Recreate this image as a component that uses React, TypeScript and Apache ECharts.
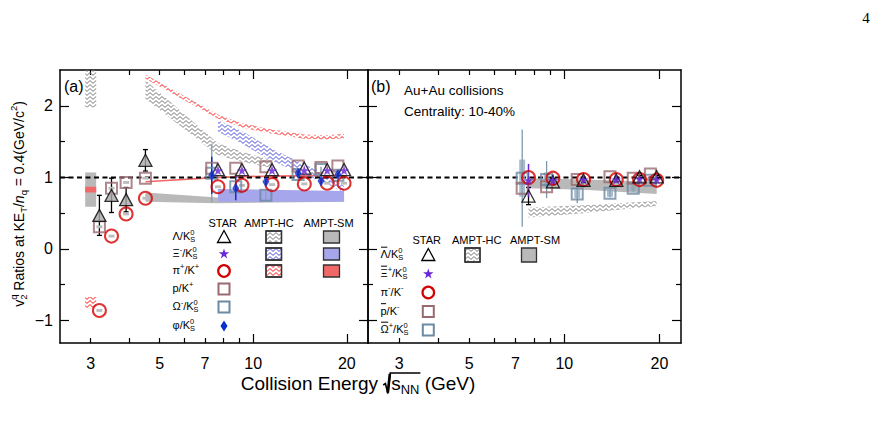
import { useEffect, useRef } from 'react';
import * as echarts from 'echarts';

const FONT = '"Liberation Sans", Arial, Helvetica, sans-serif';
const lg = Math.log10;

// ---- axes ----
const X_MIN = lg(2.39);
const X_MAX = lg(23.4);
const Y_MIN = -1.315;
const Y_MAX = 2.503;
const xMinorTicks = [3, 4, 5, 6, 7, 8, 9];
const xMajorTicks = [10, 20];
const xTickLabels = [3, 5, 7, 10, 20];
const yMajorTicks = [-1, 0, 1, 2];
const yMinorTicks = [-0.5, 0.5, 1.5];

// ---- collision energies (GeV) ----
const fxtEnergy = [3.2, 3.5, 3.9, 4.5];
const besEnergy = [7.7, 9.2, 11.5, 14.6, 17.3, 19.6];

// ---- (a) STAR, particles ----
const lambdaFxt = [0.47, 0.75, 0.69, 1.24];
const lambdaFxtErr = [0.28, 0.24, 0.17, 0.15];
const protonFxt = [0.31, 0.85, 0.93, 0.99];
const pionFxt = [-0.86, 0.18, 0.49, 0.71];

const lambdaBes = [1.11, 1.11, 1.11, 1.13, 1.11, 1.11];
const xiBes = [1.1, 1.1, 1.1, 1.1, 1.1, 1.1];
const pionBes = [0.87, 0.89, 0.9, 0.91, 0.92, 0.92];
const protonBes = [1.13, 1.13, 1.15, 1.16, 1.14, 1.16];
const omegaBes = [1.06, 0.87, 0.75, 1.04, 1.11, 1.03];
const omegaBesErr = [0.41, 0.08, 0.06, 0.05, 0.04, 0.04];
const phiBes = [1.03, 0.85, 0.94, 1.06, 0.95, 1.04];
const phiBesErr = [0.26, 0.17, 0.05, 0.05, 0.04, 0.04];

// ---- (a) AMPT ----
const ampt3Energy = [3.0];
const hcLambda3Lo = [1.98];
const hcLambda3Hi = [2.7];
const smLambda3Lo = [0.59];
const smLambda3Hi = [1.07];
const smPion3Lo = [0.79];
const smPion3Hi = [0.87];
const hcPion3Lo = [-0.83];
const hcPion3Hi = [-0.67];

const hcLambdaEnergy = [4.5, 7.7, 9.2, 11.5];
const hcLambdaLo = [2.1, 1.31, 1.22, 1.13];
const hcLambdaHi = [2.36, 1.48, 1.36, 1.24];
const hcXiEnergy = [7.7, 9.2, 11.5, 14.6, 17.3, 19.6];
const hcXiLo = [1.64, 1.47, 1.23, 1.04, 0.91, 0.79];
const hcXiHi = [1.8, 1.65, 1.4, 1.18, 1.05, 0.88];
const hcPionEnergy = [4.5, 7.7, 9.2, 11.5, 14.6, 17.3, 19.6];
const hcPionMid = [2.41, 1.85, 1.73, 1.64, 1.57, 1.56, 1.58];

const smLambdaEnergy = [4.5, 7.7, 19.6];
const smLambdaLo = [0.66, 0.64, 0.66];
const smLambdaHi = [0.79, 0.72, 0.72];
const smXiEnergy = [7.7, 19.6];
const smXiLo = [0.66, 0.66];
const smXiHi = [0.84, 0.81];
const smPionEnergy = [4.5, 7.7, 11.5, 19.6];
const smPionMid = [0.94, 1.0, 1.02, 1.03];

// ---- (b) STAR, anti-particles ----
const omegaBar = [0.99, 0.97, 0.77, 0.78, 0.85, 0.96];
const omegaBarErr = [0.68, 0.26, 0.13, 0.06, 0.05, 0.05];
const omegaBarSys = [0.26, 0.1, 0.06, 0.05, 0.04, 0.04];
const protonBar = [0.85, 0.87, 0.97, 1.01, 0.99, 1.05];
const pionMinus = [1.0, 0.99, 0.97, 0.97, 0.97, 0.96];
const lambdaBar = [0.74, 0.94, 0.96, 0.96, 1.01, 1.01];
const lambdaBarErr = [0.12, 0.04, 0.03, 0.02, 0.02, 0.02];
const xiBar = [0.96, 0.96, 0.97, 0.97, 0.98, 0.97];
const xiBarErr = [0.23, 0.08, 0.03, 0.03, 0.02, 0.02];

// ---- (b) AMPT ----
const hcBarEnergy = [7.7, 11.5, 19.6];
const hcBarLo = [0.44, 0.5, 0.6];
const hcBarHi = [0.58, 0.61, 0.67];
const smBarEnergy = [7.7, 11.5, 19.6];
const smBarLo = [0.85, 0.83, 0.77];
const smBarHi = [0.99, 0.97, 0.94];

// ---- colours ----
const RED = '#d40000';
const PURPLE = '#6a25d8';
const BROWN = '#9a6a70';
const STEEL = '#6b8aa3';
const BLUE = '#0a2fd0';
const SM_GREY = '#b9b9b9';
const SM_BLUE = '#a6a6ec';
const SM_RED = '#f06868';

const PION_HALF = 0.03;
const SM_PION_HALF = 0.012;
const SHIFT = 0.955;

let measureCtx: CanvasRenderingContext2D | null = null;
function tw(s: string, size: number, italic = false, family = FONT) {
  if (!measureCtx) measureCtx = document.createElement('canvas').getContext('2d');
  measureCtx!.font = `${italic ? 'italic ' : ''}${size}px ${family}`;
  return measureCtx!.measureText(s).width;
}

function hatch(color: string) {
  const c = document.createElement('canvas');
  c.width = 6;
  c.height = 4;
  const g = c.getContext('2d')!;
  g.strokeStyle = color;
  g.lineWidth = 1;
  g.beginPath();
  g.moveTo(0, 0.6);
  g.lineTo(3, 3.4);
  g.lineTo(6, 0.6);
  g.stroke();
  return { image: c.toDataURL(), repeat: 'repeat', imageWidth: 6, imageHeight: 4 };
}

function starPoints(cx: number, cy: number, R: number, r: number) {
  const pts: number[][] = [];
  for (let i = 0; i < 10; i++) {
    const a = -Math.PI / 2 + (i * Math.PI) / 5;
    const rad = i % 2 === 0 ? R : r;
    pts.push([cx + rad * Math.cos(a), cy + rad * Math.sin(a)]);
  }
  return pts;
}
const STAR_PATH =
  'path://M' + starPoints(10, 10, 10, 3.8).map((p) => p.map((v) => v.toFixed(2)).join(' ')).join(' L') + ' Z';

type Part = { t: string; k?: 'sup' | 'sub' | 'it'; s?: string; bar?: boolean };
function rich(parts: Part[], size: number, color = '#000') {
  const children: any[] = [];
  let cx = 0;
  const small = size * 0.68;
  const txt = (t: string, x: number, y: number, fs: number, italic = false) => ({
    type: 'text',
    x,
    y,
    silent: true,
    style: {
      text: t,
      fontSize: fs,
      fontFamily: FONT,
      fontStyle: italic ? 'italic' : 'normal',
      fill: color,
      align: 'left',
      verticalAlign: 'middle',
    },
  });
  for (const p of parts) {
    if (p.k === 'sup' || p.k === 'sub') {
      let w = tw(p.t, small);
      children.push(txt(p.t, cx, p.k === 'sup' ? -size * 0.36 : size * 0.32, small));
      if (p.s) {
        children.push(txt(p.s, cx, size * 0.34, small));
        w = Math.max(w, tw(p.s, small));
      }
      cx += w;
    } else {
      const it = p.k === 'it';
      const w = tw(p.t, size, it);
      children.push(txt(p.t, cx, 0, size, it));
      if (p.bar) {
        children.push({
          type: 'line',
          silent: true,
          shape: { x1: cx + 0.5, y1: -size * 0.62, x2: cx + w - 0.5, y2: -size * 0.62 },
          style: { stroke: color, lineWidth: 1 },
        });
      }
      cx += w;
    }
  }
  return { children, width: cx };
}

const AXIS_LINE = { show: true, onZero: false, lineStyle: { color: '#000', width: 1.5 } };
const NO_LINE = { show: false, onZero: false };

function xAxes(grid: number) {
  const base = {
    type: 'value',
    gridIndex: grid,
    min: X_MIN,
    max: X_MAX,
    splitLine: { show: false },
  };
  const tick = (vals: number[], len: number) => ({
    show: true,
    inside: true,
    length: len,
    customValues: vals.map(lg),
    lineStyle: { color: '#000', width: 1.2 },
  });
  return [
    {
      ...base,
      position: 'bottom',
      axisLine: AXIS_LINE,
      axisTick: tick(xMinorTicks, 5),
      axisLabel: {
        show: true,
        customValues: xTickLabels.map(lg),
        formatter: (v: number) => String(Math.round(Math.pow(10, v))),
        fontSize: 16,
        fontFamily: FONT,
        color: '#000',
        margin: 12,
      },
    },
    { ...base, position: 'bottom', axisLine: NO_LINE, axisTick: tick(xMajorTicks, 9), axisLabel: { show: false } },
    { ...base, position: 'top', axisLine: AXIS_LINE, axisTick: tick(xMinorTicks, 5), axisLabel: { show: false } },
    { ...base, position: 'top', axisLine: NO_LINE, axisTick: tick(xMajorTicks, 9), axisLabel: { show: false } },
  ];
}

function yAxes(grid: number, labels: boolean) {
  const base = { type: 'value', gridIndex: grid, min: Y_MIN, max: Y_MAX, splitLine: { show: false } };
  const tick = (vals: number[], len: number) => ({
    show: true,
    inside: true,
    length: len,
    customValues: vals,
    lineStyle: { color: '#000', width: 1.2 },
  });
  return [
    {
      ...base,
      position: 'left',
      axisLine: AXIS_LINE,
      axisTick: tick(yMajorTicks, 9),
      axisLabel: labels
        ? {
            show: true,
            customValues: yMajorTicks,
            formatter: (v: number) => (v < 0 ? '\u2212' + Math.abs(v) : String(v)),
            fontSize: 16,
            fontFamily: FONT,
            color: '#000',
            margin: 7,
          }
        : { show: false },
    },
    { ...base, position: 'left', axisLine: NO_LINE, axisTick: tick(yMinorTicks, 5), axisLabel: { show: false } },
    { ...base, position: 'right', axisLine: AXIS_LINE, axisTick: tick(yMajorTicks, 9), axisLabel: { show: false } },
    { ...base, position: 'right', axisLine: NO_LINE, axisTick: tick(yMinorTicks, 5), axisLabel: { show: false } },
  ];
}

function band(e: number[], lo: number[], hi: number[], fill: any, panel: number, z: number) {
  const pts = e.map((x, i) => [lg(x), lo[i], hi[i]]);
  return {
    type: 'custom',
    xAxisIndex: panel * 4,
    yAxisIndex: panel * 4,
    z,
    silent: true,
    clip: true,
    data: pts,
    renderItem: (params: any, api: any) => {
      if (params.dataIndex !== 0) return null;
      const top = pts.map((p) => api.coord([p[0], p[2]]));
      const bot = pts.map((p) => api.coord([p[0], p[1]])).reverse();
      return { type: 'polygon', shape: { points: top.concat(bot) }, style: { fill } };
    },
  };
}

function boxes(e: number[], lo: number[], hi: number[], fill: any, panel: number, z: number, halfPx = 5.5, shift = 1) {
  return {
    type: 'custom',
    xAxisIndex: panel * 4,
    yAxisIndex: panel * 4,
    z,
    silent: true,
    clip: true,
    data: e.map((x, i) => [lg(x * shift), lo[i], hi[i]]),
    renderItem: (_p: any, api: any) => {
      const a = api.coord([api.value(0), api.value(2)]);
      const b = api.coord([api.value(0), api.value(1)]);
      return {
        type: 'rect',
        shape: { x: a[0] - halfPx, y: a[1], width: 2 * halfPx, height: b[1] - a[1] },
        style: { fill },
      };
    },
  };
}

function errBars(e: number[], y: number[], err: number[], color: string, width: number, cap: number, panel: number, z: number, shift = 1) {
  return {
    type: 'custom',
    xAxisIndex: panel * 4,
    yAxisIndex: panel * 4,
    z,
    silent: true,
    clip: true,
    data: e.map((x, i) => [lg(x * shift), y[i], err[i]]),
    renderItem: (_p: any, api: any) => {
      const x = api.value(0);
      const v = api.value(1);
      const d = api.value(2);
      const a = api.coord([x, v + d]);
      const b = api.coord([x, v - d]);
      const st = { stroke: color, lineWidth: width };
      const children: any[] = [{ type: 'line', shape: { x1: a[0], y1: a[1], x2: b[0], y2: b[1] }, style: st }];
      if (cap > 0) {
        children.push({ type: 'line', shape: { x1: a[0] - cap, y1: a[1], x2: a[0] + cap, y2: a[1] }, style: st });
        children.push({ type: 'line', shape: { x1: b[0] - cap, y1: b[1], x2: b[0] + cap, y2: b[1] }, style: st });
      }
      return { type: 'group', children };
    },
  };
}

function scatter(e: number[], y: number[], panel: number, symbol: string, size: any, style: any, z: number, shift = 1) {
  return {
    type: 'scatter',
    xAxisIndex: panel * 4,
    yAxisIndex: panel * 4,
    z,
    silent: true,
    data: e.map((x, i) => [lg(x * shift), y[i]]),
    symbol,
    symbolSize: size,
    itemStyle: style,
  };
}

function dashedUnity(panel: number) {
  return {
    type: 'line',
    xAxisIndex: panel * 4,
    yAxisIndex: panel * 4,
    z: 3,
    silent: true,
    symbol: 'none',
    data: [
      [X_MIN, 1],
      [X_MAX, 1],
    ],
    lineStyle: { color: '#000', width: 2, type: [5, 3.5] },
  };
}

function buildOption() {
  const hGrey = hatch('#7a7a7a');
  const hBlue = hatch('#5050e0');
  const hRed = hatch('#ff1a1a');
  const none = 'rgba(255,255,255,0)';

  const hcPionLo = hcPionMid.map((v) => v - PION_HALF);
  const hcPionHi = hcPionMid.map((v) => v + PION_HALF);
  const smPionLo = smPionMid.map((v) => v - SM_PION_HALF);
  const smPionHi = smPionMid.map((v) => v + SM_PION_HALF);

  const series: any[] = [
    // (a) model bands
    band(smLambdaEnergy, smLambdaLo, smLambdaHi, SM_GREY, 0, 1),
    band(smXiEnergy, smXiLo, smXiHi, SM_BLUE, 0, 1),
    band(smPionEnergy, smPionLo, smPionHi, SM_RED, 0, 1),
    band(hcLambdaEnergy, hcLambdaLo, hcLambdaHi, hGrey, 0, 1),
    band(hcXiEnergy, hcXiLo, hcXiHi, hBlue, 0, 1),
    band(hcPionEnergy, hcPionLo, hcPionHi, hRed, 0, 1),
    boxes(ampt3Energy, smLambda3Lo, smLambda3Hi, SM_GREY, 0, 1),
    boxes(ampt3Energy, smPion3Lo, smPion3Hi, SM_RED, 0, 2),
    boxes(ampt3Energy, hcLambda3Lo, hcLambda3Hi, hGrey, 0, 1),
    boxes(ampt3Energy, hcPion3Lo, hcPion3Hi, hRed, 0, 1),
    dashedUnity(0),
    // (a) STAR
    errBars(fxtEnergy, lambdaFxt, lambdaFxtErr, '#000', 1.3, 2.5, 0, 4),
    errBars(besEnergy, omegaBes, omegaBesErr, '#8aa3b6', 1.5, 0, 0, 4, SHIFT),
    errBars(besEnergy, phiBes, phiBesErr, BLUE, 1.5, 0, 0, 4, SHIFT),
    scatter(besEnergy, omegaBes, 0, 'rect', 11, { color: none, borderColor: STEEL, borderWidth: 2 }, 5, SHIFT),
    scatter(fxtEnergy, protonFxt, 0, 'rect', 11, { color: none, borderColor: BROWN, borderWidth: 2 }, 5),
    scatter(besEnergy, protonBes, 0, 'rect', 11, { color: none, borderColor: BROWN, borderWidth: 2 }, 5, SHIFT),
    boxes(fxtEnergy, protonFxt.map((v) => v - 0.02), protonFxt.map((v) => v + 0.02), '#bdbdbd', 0, 4, 3),
    boxes(fxtEnergy, pionFxt.map((v) => v - 0.02), pionFxt.map((v) => v + 0.02), '#bdbdbd', 0, 4, 3),
    boxes(besEnergy, pionBes.map((v) => v - 0.02), pionBes.map((v) => v + 0.02), '#bdbdbd', 0, 4, 3),
    scatter(fxtEnergy, pionFxt, 0, 'circle', 13, { color: none, borderColor: RED, borderWidth: 2 }, 6),
    scatter(besEnergy, pionBes, 0, 'circle', 13, { color: none, borderColor: RED, borderWidth: 2 }, 6),
    scatter(fxtEnergy, lambdaFxt, 0, 'triangle', [13, 12], { color: '#a9a9a9', borderColor: '#000', borderWidth: 1.3 }, 6),
    scatter(besEnergy, lambdaBes, 0, 'triangle', [13, 12], { color: '#fff', borderColor: '#000', borderWidth: 1.3 }, 6),
    scatter(besEnergy, xiBes, 0, STAR_PATH, [10, 10], { color: PURPLE }, 7),
    scatter(besEnergy, phiBes, 0, 'diamond', [7, 11], { color: BLUE }, 8, SHIFT),

    // (b) model bands
    band(smBarEnergy, smBarLo, smBarHi, SM_GREY, 1, 1),
    band(hcBarEnergy, hcBarLo, hcBarHi, hGrey, 1, 1),
    dashedUnity(1),
    // (b) STAR
    errBars(besEnergy, omegaBar, omegaBarErr, '#7d98ad', 1.3, 0, 1, 4, SHIFT),
    boxes(besEnergy, omegaBar.map((v, i) => v - omegaBarSys[i]), omegaBar.map((v, i) => v + omegaBarSys[i]), 'rgba(140,165,185,0.75)', 1, 4, 3, SHIFT),
    errBars(besEnergy, lambdaBar, lambdaBarErr, '#000', 1.3, 2.5, 1, 4),
    errBars(besEnergy, xiBar, xiBarErr, PURPLE, 1.5, 0, 1, 4),
    scatter(besEnergy, omegaBar, 1, 'rect', 11, { color: none, borderColor: STEEL, borderWidth: 2 }, 5, SHIFT),
    scatter(besEnergy, protonBar, 1, 'rect', 11, { color: none, borderColor: BROWN, borderWidth: 2 }, 5, SHIFT),
    scatter(besEnergy, pionMinus, 1, 'circle', 13, { color: none, borderColor: RED, borderWidth: 2 }, 6),
    scatter(besEnergy, lambdaBar, 1, 'triangle', [13, 12], { color: none, borderColor: '#000', borderWidth: 1.3 }, 6),
    scatter(besEnergy, xiBar, 1, STAR_PATH, [10, 10], { color: PURPLE }, 7),
  ];

  // ---- texts and legends ----
  const graphic: any[] = [];
  const plain = (t: string, x: number, y: number, size: number, align = 'left', family = FONT) => ({
    type: 'text',
    x,
    y,
    silent: true,
    style: { text: t, fontSize: size, fontFamily: family, fill: '#000', align, verticalAlign: 'middle' },
  });
  const put = (parts: Part[], x: number, y: number, size: number) => {
    const r = rich(parts, size);
    graphic.push({ type: 'group', x, y, children: r.children });
  };

  graphic.push(plain('4', 866, 18, 15, 'center', '"Liberation Serif", "DejaVu Serif", serif'));
  graphic.push(plain('(a)', 64, 86, 16));
  graphic.push(plain('(b)', 371, 86, 16));
  graphic.push(plain('Au+Au collisions', 404, 90, 13.5));
  graphic.push(plain('Centrality: 10-40%', 404, 111, 13.5));

  // y-axis title (rotated)
  {
    const parts: Part[] = [
      { t: 'v' },
      { t: 'q', k: 'sup', s: '2' },
      { t: ' Ratios at KE' },
      { t: 'T', k: 'sub' },
      { t: '/' },
      { t: 'n', k: 'it' },
      { t: 'q', k: 'sub' },
      { t: ' = 0.4(GeV/c' },
      { t: '2', k: 'sup' },
      { t: ')' },
    ];
    const r = rich(parts, 14);
    graphic.push({ type: 'group', x: 19, y: 204 + r.width / 2, rotation: Math.PI / 2, children: r.children });
  }

  // x-axis title with radical sign
  {
    const size = 19;
    const sub = size * 0.68;
    const a = 'Collision Energy ';
    const wa = tw(a, size);
    const radW = 8;
    const ws = tw('s', size);
    const wn = tw('NN', sub);
    const wc = tw(' (GeV)', size);
    const total = wa + radW + ws + wn + wc;
    const x0 = 358 - total / 2;
    const y0 = 383;
    const rx = x0 + wa;
    const txt = (t: string, x: number, y: number, fs: number) => ({
      type: 'text',
      x,
      y,
      silent: true,
      style: { text: t, fontSize: fs, fontFamily: FONT, fill: '#000', align: 'left', verticalAlign: 'middle' },
    });
    graphic.push(txt(a, x0, y0, size));
    graphic.push({
      type: 'polyline',
      silent: true,
      shape: {
        points: [
          [rx, y0 + 2],
          [rx + 2.2, y0 + 0.5],
          [rx + 4.6, y0 + 10.5],
          [rx + 7, y0 - 10],
          [rx + radW + ws + wn + 1, y0 - 10],
        ],
      },
      style: { stroke: '#000', lineWidth: 1.6, fill: null },
    });
    graphic.push({
      type: 'line',
      silent: true,
      shape: { x1: rx + 4.6, y1: y0 + 9.5, x2: rx + 6.6, y2: y0 - 9 },
      style: { stroke: '#000', lineWidth: 2.6 },
    });
    graphic.push(txt('s', rx + radW, y0, size));
    graphic.push(txt('NN', rx + radW + ws, y0 + size * 0.32, sub));
    graphic.push(txt(' (GeV)', rx + radW + ws + wn, y0, size));
  }

  // legend (a)
  graphic.push(plain('STAR', 222.7, 222.5, 11, 'center'));
  graphic.push(plain('AMPT-HC', 269, 222.5, 11, 'center'));
  graphic.push(plain('AMPT-SM', 328.5, 222.5, 11, 'center'));
  const rowsA = [237, 254, 271, 289, 307, 326];
  const labelsA: Part[][] = [
    [{ t: '\u039B/K' }, { t: '0', k: 'sup', s: 'S' }],
    [{ t: '\u039E' }, { t: '-', k: 'sup' }, { t: '/K' }, { t: '0', k: 'sup', s: 'S' }],
    [{ t: '\u03C0' }, { t: '+', k: 'sup' }, { t: '/K' }, { t: '+', k: 'sup' }],
    [{ t: 'p/K' }, { t: '+', k: 'sup' }],
    [{ t: '\u03A9' }, { t: '-', k: 'sup' }, { t: '/K' }, { t: '0', k: 'sup', s: 'S' }],
    [{ t: '\u03C6/K' }, { t: '0', k: 'sup', s: 'S' }],
  ];
  labelsA.forEach((p, i) => put(p, 172.5, rowsA[i] - 1, 11));
  const sx = 224;
  const tri = (cx: number, cy: number, fill: string) => ({
    type: 'polygon',
    silent: true,
    shape: { points: [[cx - 6.5, cy + 5.5], [cx + 6.5, cy + 5.5], [cx, cy - 6.5]] },
    style: { fill, stroke: '#000', lineWidth: 1.3 },
  });
  const star = (cx: number, cy: number) => ({
    type: 'polygon',
    silent: true,
    shape: { points: starPoints(cx, cy, 5.5, 2.1) },
    style: { fill: PURPLE },
  });
  const circ = (cx: number, cy: number) => ({
    type: 'circle',
    silent: true,
    shape: { cx, cy, r: 5.8 },
    style: { fill: 'none', stroke: RED, lineWidth: 2.2 },
  });
  const sq = (cx: number, cy: number, color: string) => ({
    type: 'rect',
    silent: true,
    shape: { x: cx - 5.5, y: cy - 5.5, width: 11, height: 11 },
    style: { fill: 'none', stroke: color, lineWidth: 2 },
  });
  const diamond = (cx: number, cy: number) => ({
    type: 'polygon',
    silent: true,
    shape: { points: [[cx, cy - 5.5], [cx + 3.5, cy], [cx, cy + 5.5], [cx - 3.5, cy]] },
    style: { fill: BLUE },
  });
  const box = (x: number, cy: number, w: number, h: number, fill: any) => ({
    type: 'rect',
    silent: true,
    shape: { x, y: cy - h / 2, width: w, height: h },
    style: { fill, stroke: '#333', lineWidth: 1.3 },
  });
  graphic.push(tri(sx, rowsA[0], 'none'));
  graphic.push(star(sx, rowsA[1]));
  graphic.push(circ(sx, rowsA[2]));
  graphic.push(sq(sx, rowsA[3], BROWN));
  graphic.push(sq(sx, rowsA[4], STEEL));
  graphic.push(diamond(sx, rowsA[5]));
  graphic.push(box(266, rowsA[0], 15.5, 12, '#fff'));
  graphic.push(box(266, rowsA[0], 15.5, 12, hGrey));
  graphic.push(box(266, rowsA[1], 15.5, 12, '#fff'));
  graphic.push(box(266, rowsA[1], 15.5, 12, hBlue));
  graphic.push(box(266, rowsA[2], 15.5, 12, '#fff'));
  graphic.push(box(266, rowsA[2], 15.5, 12, hRed));
  graphic.push(box(323.5, rowsA[0], 16, 12, SM_GREY));
  graphic.push(box(323.5, rowsA[1], 16, 12, SM_BLUE));
  graphic.push(box(323.5, rowsA[2], 16, 12, SM_RED));

  // legend (b)
  graphic.push(plain('STAR', 426.7, 240, 11, 'center'));
  graphic.push(plain('AMPT-HC', 476.7, 240, 11, 'center'));
  graphic.push(plain('AMPT-SM', 535, 240, 11, 'center'));
  const rowsB = [255, 274, 292.5, 311.5, 330];
  const labelsB: Part[][] = [
    [{ t: '\u039B', bar: true }, { t: '/K' }, { t: '0', k: 'sup', s: 'S' }],
    [{ t: '\u039E', bar: true }, { t: '+', k: 'sup' }, { t: '/K' }, { t: '0', k: 'sup', s: 'S' }],
    [{ t: '\u03C0' }, { t: '-', k: 'sup' }, { t: '/K' }, { t: '-', k: 'sup' }],
    [{ t: 'p', bar: true }, { t: '/K' }, { t: '-', k: 'sup' }],
    [{ t: '\u03A9', bar: true }, { t: '+', k: 'sup' }, { t: '/K' }, { t: '0', k: 'sup', s: 'S' }],
  ];
  labelsB.forEach((p, i) => put(p, 380.5, rowsB[i] - 1, 11));
  const sxb = 428.3;
  graphic.push(tri(sxb, rowsB[0], 'none'));
  graphic.push(star(sxb, rowsB[1]));
  graphic.push(circ(sxb, rowsB[2]));
  graphic.push(sq(sxb, rowsB[3], BROWN));
  graphic.push(sq(sxb, rowsB[4], STEEL));
  graphic.push(box(465, rowsB[0], 15, 14, '#fff'));
  graphic.push(box(465, rowsB[0], 15, 14, hGrey));
  graphic.push(box(521.5, rowsB[0], 15, 14, SM_GREY));

  return {
    animation: false,
    backgroundColor: '#fff',
    textStyle: { fontFamily: FONT },
    grid: [
      { left: 60, top: 70, width: 308, height: 273, outerBoundsMode: 'none', containLabel: false },
      { left: 368, top: 70, width: 313, height: 273, outerBoundsMode: 'none', containLabel: false },
    ],
    xAxis: [...xAxes(0), ...xAxes(1)],
    yAxis: [...yAxes(0, true), ...yAxes(1, false)],
    series,
    graphic,
  };
}

export default function App() {
  const ref = useRef<HTMLDivElement>(null);
  useEffect(() => {
    if (!ref.current) return;
    const chart = echarts.init(ref.current, null, { renderer: 'svg' });
    chart.setOption(buildOption() as any);
    return () => chart.dispose();
  }, []);
  return (
    <div
      ref={ref}
      style={{ position: 'fixed', left: 0, top: 0, width: 880, height: 434, background: '#fff' }}
    />
  );
}
